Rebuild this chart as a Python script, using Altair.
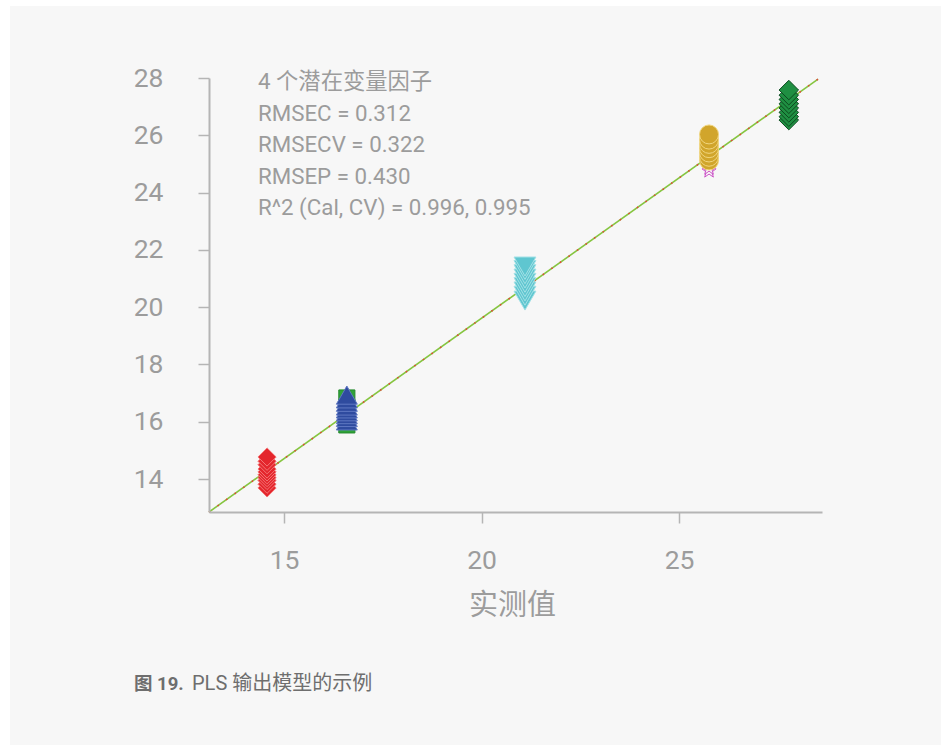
import altair as alt
import pandas as pd

# Measured value of each sample group and its predicted values (PLS, 4 LVs)
group_ids = ["s1", "s2", "s3", "s4", "s5", "s6", "s7"]
measured = [14.57, 16.59, 16.59, 21.10, 25.76, 25.76, 27.78]
predicted = [
    [13.69, 13.82, 13.95, 14.05, 14.15, 14.25, 14.35, 14.50, 14.62, 14.77],
    [15.89, 16.20, 16.50, 16.83],
    [16.03, 16.15, 16.25, 16.35, 16.45, 16.55, 16.68, 16.80, 16.93],
    [20.23, 20.40, 20.55, 20.70, 20.85, 21.00, 21.15, 21.30, 21.42],
    [24.75, 24.85, 25.00],
    [25.12, 25.25, 25.40, 25.55, 25.70, 25.85, 26.03],
    [26.53, 26.65, 26.80, 26.95, 27.10, 27.25, 27.40, 27.58],
]

# Regression line and target line end points
fit_x = [13.10, 28.52]
fit_y = [12.85, 27.96]

stats_lines = [
    "4 个潜在变量因子",
    "RMSEC = 0.312",
    "RMSECV = 0.322",
    "RMSEP = 0.430",
    "R^2 (Cal, CV) = 0.996, 0.995",
]
x_ticks = [15, 20, 25]
y_ticks = [14, 16, 18, 20, 22, 24, 26, 28]
x_title = "实测值"
caption_bold = "图 19."
caption_rest = "PLS 输出模型的示例"

# five-pointed star in the unit box
STAR = ("M0,-1L0.235,-0.324L0.951,-0.309L0.380,0.124L0.588,0.809L0,0.4"
        "L-0.588,0.809L-0.380,0.124L-0.951,-0.309L-0.235,-0.324Z")

# Marker style for each group
styles = {
    "s1": dict(shape="diamond", fill="#e4262d", stroke="#f47474", size=330),
    "s2": dict(shape="square", fill="#30a338", stroke="#268a2e", size=260),
    "s3": dict(shape="triangle-up", fill="#2f4b9f", stroke="#5f78c2", size=440),
    "s4": dict(shape="triangle-down", fill="#5fc6d0", stroke="#a3e1e6", size=480),
    "s5": dict(shape=STAR, fill="#f7f7f7", stroke="#cc55c8", size=220),
    "s6": dict(shape="circle", fill="#d1a52b", stroke="#f1d67f", size=360),
    "s7": dict(shape="diamond", fill="#1f8f42", stroke="#0c4a1e", size=380),
}

X_DOMAIN = [13.10, 28.62]
Y_DOMAIN = [12.85, 28.0]
FONT = "Roboto, Noto Sans CJK SC"
GRAY = "#9c9c9c"

x_scale = alt.Scale(domain=X_DOMAIN, nice=False, zero=False)
y_scale = alt.Scale(domain=Y_DOMAIN, nice=False, zero=False)

one_row = alt.Data(values=[{}])

# light panel behind the figure
panel = alt.Chart(one_row).mark_rect(color="#f7f7f7").encode(
    x=alt.value(-199), x2=alt.value(732), y=alt.value(-72), y2=alt.value(667)
)

line_df = pd.DataFrame({"x": fit_x, "y": fit_y})
x_enc = alt.X(
    "x:Q", scale=x_scale, title=x_title,
    axis=alt.Axis(values=x_ticks, grid=False, zindex=1),
)
y_enc = alt.Y(
    "y:Q", scale=y_scale, title=None,
    axis=alt.Axis(values=y_ticks, grid=False, zindex=1),
)

fit_line = alt.Chart(line_df).mark_line(color="#86c540", strokeWidth=1.6).encode(
    x=x_enc, y=y_enc
)
target_line = alt.Chart(line_df).mark_line(
    color="#e3443c", strokeWidth=1.6, strokeDash=[1.5, 9]
).encode(x="x:Q", y="y:Q")

layers = [panel, fit_line, target_line]

for gid, mx, ys in zip(group_ids, measured, predicted):
    st = styles[gid]
    df = pd.DataFrame({"x": [mx] * len(ys), "y": ys})
    layers.append(
        alt.Chart(df).mark_point(
            shape=st["shape"], filled=True, fill=st["fill"], stroke=st["stroke"],
            strokeWidth=1, size=st["size"], opacity=1,
        ).encode(x="x:Q", y="y:Q")
    )

stats = alt.Chart(one_row).mark_text(
    text=stats_lines, align="left", baseline="middle", font=FONT,
    fontSize=22.3, lineHeight=31.5, color=GRAY,
).encode(x=alt.value(49), y=alt.value(4))

cap1 = alt.Chart(one_row).mark_text(
    text=caption_bold, align="left", baseline="middle", font=FONT,
    fontSize=18.5, fontWeight="bold", color="#6e6e6e",
).encode(x=alt.value(-75), y=alt.value(606))

cap2 = alt.Chart(one_row).mark_text(
    text=caption_rest, align="left", baseline="middle", font=FONT,
    fontSize=20, color="#6e6e6e",
).encode(x=alt.value(-17), y=alt.value(606))

layers += [stats, cap1, cap2]

chart = alt.layer(*layers).properties(
    width=613,
    height=434,
    autosize=alt.AutoSizeParams(type="none"),
    padding={"left": 209, "top": 78, "right": 129, "bottom": 233},
    background="white",
).configure_view(stroke=None).configure_axis(
    domainColor="#b5b5b5", domainWidth=2,
    tickColor="#b5b5b5", tickWidth=1.5, tickSize=11,
    labelFont="Roboto", labelFontSize=26.5, labelColor=GRAY,
    titleFont="Noto Sans CJK SC", titleFontSize=29, titleColor=GRAY,
    titleFontWeight="normal",
).configure_axisX(labelPadding=24, titlePadding=18, titleX=303).configure_axisY(labelPadding=35)

chart.save("out.html", embed_options={"renderer": "svg", "actions": False})
